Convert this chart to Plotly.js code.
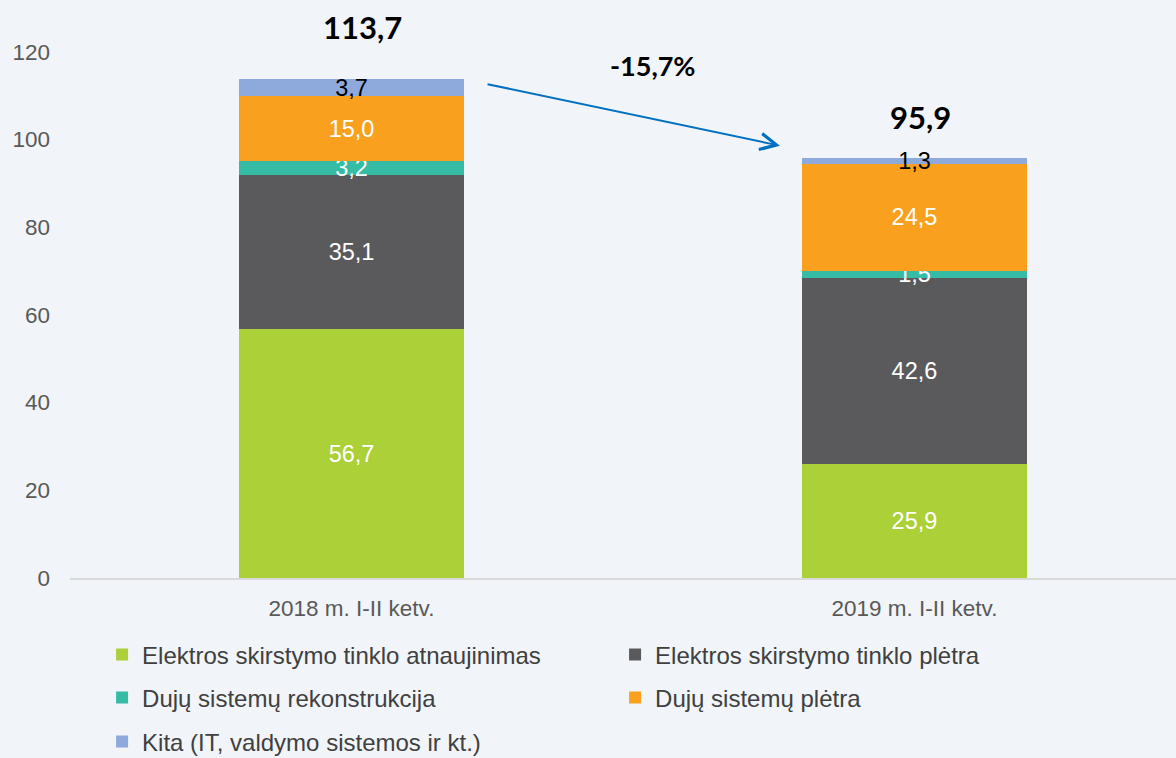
<!DOCTYPE html>
<html>
<head>
<meta charset="utf-8">
<script src="https://cdn.plot.ly/plotly-3.0.1.min.js"></script>
<style>
html,body{margin:0;padding:0;background:#f1f4f8;}
#chart{width:1176px;height:758px;}
</style>
</head>
<body>
<div id="chart"></div>
<script>
var categories = ['2018 m. I-II ketv.', '2019 m. I-II ketv.'];
var seriesNames = [
  'Elektros skirstymo tinklo atnaujinimas',
  'Elektros skirstymo tinklo plėtra',
  'Dujų sistemų rekonstrukcija',
  'Dujų sistemų plėtra',
  'Kita (IT, valdymo sistemos ir kt.)'
];
var elektrosAtnaujinimas = [56.7, 25.9];
var elektrosPletra = [35.1, 42.6];
var dujuRekonstrukcija = [3.2, 1.5];
var dujuPletra = [15.0, 24.5];
var kita = [3.7, 1.3];
var totals = [113.7, 95.9];
var changeLabel = '-15,7%';

var seriesValues = [elektrosAtnaujinimas, elektrosPletra, dujuRekonstrukcija, dujuPletra, kita];
var colors = ['#acd037', '#5a5a5c', '#36bba5', '#f9a11e', '#8eaadc'];
var textColors = ['#ffffff', '#ffffff', '#ffffff', '#ffffff', '#000000'];
var legendIds = ['legend', 'legend', 'legend2', 'legend2', 'legend3'];

var FONT = 'Liberation Sans, Arial, sans-serif';

var traces = seriesValues.map(function (vals, i) {
  return {
    type: 'bar',
    name: seriesNames[i],
    x: categories,
    y: vals,
    width: 0.4,
    marker: {color: colors[i], line: {width: 0}},
    texttemplate: '%{y:.1f}',
    textposition: 'inside',
    insidetextanchor: 'middle',
    constraintext: 'none',
    textangle: 0,
    textfont: {family: FONT, size: 23.5, color: textColors[i]},
    hoverinfo: 'skip',
    legend: legendIds[i],
    showlegend: true
  };
});

function fmt(v) { return v.toFixed(1).replace('.', ','); }

var totalShifts = [52, 41];
var annotations = totals.map(function (t, i) {
  return {
    x: categories[i], y: t, xref: 'x', yref: 'y',
    text: '<b>' + fmt(t) + '</b>', showarrow: false,
    yanchor: 'middle', yshift: totalShifts[i], xshift: i === 0 ? 11 : 6,
    font: {family: 'Lato, Open Sans, sans-serif', size: 31, color: '#000000'}
  };
});
annotations.push({
  x: 0.5275, y: 1.0, xref: 'paper', yref: 'paper',
  text: '<b>' + changeLabel + '</b>', showarrow: false,
  xanchor: 'center', yanchor: 'middle', yshift: -57,
  font: {family: 'Lato, Open Sans, sans-serif', size: 27, color: '#000000'}
});
annotations.push({
  x: 0.761, y: 98.6, xref: 'x', yref: 'y',
  ax: 0.239, ay: 112.7, axref: 'x', ayref: 'y',
  text: '', showarrow: true, arrowhead: 5, arrowsize: 1.6, arrowwidth: 2,
  arrowcolor: '#0070c0', standoff: 0, startstandoff: 0
});

var legendBase = {
  orientation: 'h', x: 0.029, xanchor: 'left', yanchor: 'middle',
  traceorder: 'normal',
  bgcolor: 'rgba(0,0,0,0)', borderwidth: 0,
  font: {family: FONT, size: 24, color: '#404040'},
  entrywidth: 468, entrywidthmode: 'pixels', itemclick: false, itemdoubleclick: false
};

var layout = {
  width: 1176, height: 758,
  margin: {l: 70, r: 0, t: 8, b: 180, pad: 0, autoexpand: false},
  paper_bgcolor: '#f1f4f8',
  plot_bgcolor: '#f1f4f8',
  barmode: 'stack',
  separators: ', ',
  font: {family: FONT, color: '#595959', size: 22},
  xaxis: {
    type: 'category',
    range: [-0.5, 1.4645],
    showline: true, linecolor: '#d9d9d9', linewidth: 1.5,
    showgrid: false, zeroline: false, ticks: '',
    ticklabelstandoff: 9,
    tickfont: {family: FONT, size: 22.5, color: '#595959'},
    fixedrange: true
  },
  yaxis: {
    range: [0, 130], dtick: 20, tick0: 0,
    showgrid: false, zeroline: false, showline: false, ticks: '',
    ticklabelstandoff: 19,
    tickfont: {family: FONT, size: 22.5, color: '#595959'},
    fixedrange: true
  },
  legend: Object.assign({}, legendBase, {y: -0.1351}),
  legend2: Object.assign({}, legendBase, {y: -0.2105}),
  legend3: Object.assign({}, legendBase, {y: -0.2877}),
  annotations: annotations,
  showlegend: true
};

Plotly.newPlot('chart', traces, layout, {displayModeBar: false, staticPlot: true});
</script>
</body>
</html>
